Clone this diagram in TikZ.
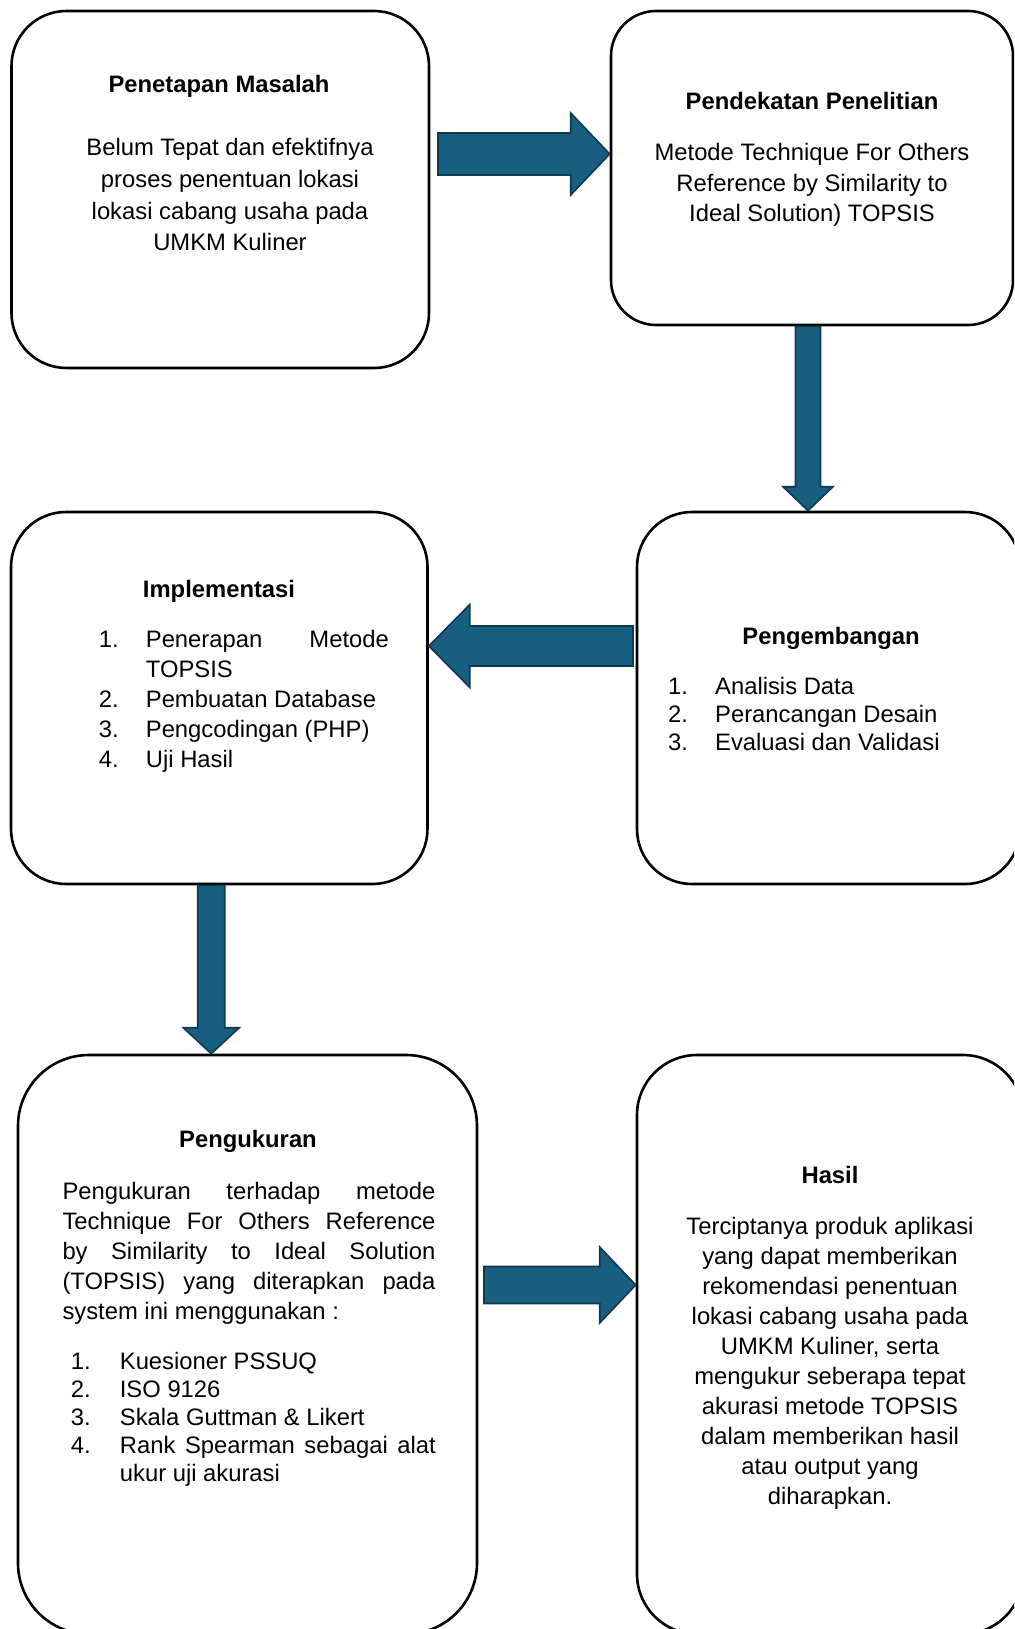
\documentclass[tikz,border=0pt]{standalone}
\usepackage{fontspec}
\setmainfont{Liberation Sans}
\usetikzlibrary{calc}

\definecolor{arrowfill}{RGB}{23,94,128}
\definecolor{arrowline}{RGB}{15,57,78}

\tikzset{
  stagebox/.style={draw=black, line width=2.6pt, rectangle, inner sep=0pt},
  blockarrow/.style={fill=arrowfill, draw=arrowline, line width=1.6pt, line join=miter},
  txt/.style={inner sep=0pt, font=\fontsize{23.8pt}{30.1pt}\selectfont},
  title/.style={inner sep=0pt, anchor=base, font=\fontsize{23.8pt}{30.1pt}\selectfont\bfseries},
}

% block arrow: tail, tip, shaft half-width, head half-width, head length
\newcommand\fatarrow[5]{%
  \coordinate (#2-base) at ($(#2)!#5!(#1)$);
  \draw[blockarrow]
    ($(#1)!#3!90:(#2)$) -- ($(#2-base)!#3!90:(#2)$) -- ($(#2-base)!#4!90:(#2)$)
    -- (#2)
    -- ($(#2-base)!#4!-90:(#2)$) -- ($(#2-base)!#3!-90:(#2)$) -- ($(#1)!#3!-90:(#2)$)
    -- cycle;
}

\begin{document}
\begin{tikzpicture}[x=1pt, y=-1pt]
  \useasboundingbox (0,0) rectangle (1014,1629);
  \fill[white] (0,0) rectangle (1014,1629);
  \clip (0,0) rectangle (1014,1629);

  % stages
  \node[stagebox, minimum width=417.5pt, minimum height=357pt, rounded corners=55pt] (b1) at (220.25,189.5) {};
  \node[stagebox, minimum width=402pt, minimum height=314pt, rounded corners=45pt] (b2) at (812,168) {};
  \node[stagebox, minimum width=383pt, minimum height=372pt, rounded corners=55pt] (b3) at (828.5,698) {};
  \node[stagebox, minimum width=416.5pt, minimum height=372pt, rounded corners=55pt] (b4) at (219.25,698) {};
  \node[stagebox, minimum width=459pt, minimum height=579pt, rounded corners=71pt] (b5) at (247.5,1344.5) {};
  \node[stagebox, minimum width=386pt, minimum height=579pt, rounded corners=60pt] (b6) at (830,1344.5) {};

  % connectors
  \coordinate (a1s) at (438,154);
  \coordinate (a1e) at (b2.west |- a1s);
  \fatarrow{a1s}{a1e}{21pt}{41pt}{39pt}

  \coordinate (a2s) at ($(b2.south)+(-4,0)$);
  \coordinate (a2e) at (a2s |- b3.north);
  \fatarrow{a2s}{a2e}{12.5pt}{25pt}{24pt}

  \coordinate (a3s) at (633,646);
  \coordinate (a3e) at (b4.east |- a3s);
  \fatarrow{a3s}{a3e}{20pt}{41.5pt}{41pt}

  \coordinate (a4s) at ($(b4.south)+(-8,0)$);
  \coordinate (a4e) at (a4s |- b5.north);
  \fatarrow{a4s}{a4e}{13.5pt}{28pt}{26pt}

  \coordinate (a5s) at (484,1285);
  \coordinate (a5e) at (b6.west |- a5s);
  \fatarrow{a5s}{a5e}{18.5pt}{38pt}{36pt}

  % text blocks are placed by the baseline of their last line

  % Penetapan Masalah
  \node[title] (t1) at (219,93) {Penetapan Masalah};
  \node[txt, align=center, anchor=base, font=\fontsize{23.8pt}{31.6pt}\selectfont] (p1) at (230,250.8)
    {Belum Tepat dan efektifnya\\proses penentuan lokasi\\lokasi cabang usaha pada\\UMKM Kuliner};

  % Pendekatan Penelitian
  \node[title] (t2) at (812,110) {Pendekatan Penelitian};
  \node[txt, align=center, anchor=base] (p2) at (812,221.2)
    {Metode Technique For Others\\Reference by Similarity to\\Ideal Solution) TOPSIS};

  % Pengembangan
  \node[title] (t3) at (831,644) {Pengembangan};
  \node[txt, align=left, anchor=base west, font=\fontsize{23.8pt}{28pt}\selectfont] (p3) at (668,750)
    {\makebox[47pt][l]{1.}Analisis Data\\
     \makebox[47pt][l]{2.}Perancangan Desain\\
     \makebox[47pt][l]{3.}Evaluasi dan Validasi};

  % Implementasi
  \node[title] (t4) at (219,597) {Implementasi};
  \node[txt, align=left, anchor=base west] (p4) at (98.7,767.4)
    {\makebox[47pt][l]{1.}\makebox[243pt][s]{Penerapan Metode}\\
     \hspace*{47pt}TOPSIS\\
     \makebox[47pt][l]{2.}Pembuatan Database\\
     \makebox[47pt][l]{3.}Pengcodingan (PHP)\\
     \makebox[47pt][l]{4.}Uji Hasil};

  % Pengukuran
  \node[title] (t5) at (248,1147) {Pengukuran};
  \node[txt, align=left, anchor=base west] (p5) at (62.3,1319.4)
    {\makebox[373pt][s]{Pengukuran terhadap metode}\\
     \makebox[373pt][s]{Technique For Others Reference}\\
     \makebox[373pt][s]{by Similarity to Ideal Solution}\\
     \makebox[373pt][s]{(TOPSIS) yang diterapkan pada}\\
     system ini menggunakan :};
  \node[txt, align=left, anchor=base west, font=\fontsize{23.8pt}{28pt}\selectfont] (l5) at (70.7,1481)
    {\makebox[49pt][l]{1.}Kuesioner PSSUQ\\
     \makebox[49pt][l]{2.}ISO 9126\\
     \makebox[49pt][l]{3.}Skala Guttman \& Likert\\
     \makebox[49pt][l]{4.}\makebox[316pt][s]{Rank Spearman sebagai alat}\\
     \hspace*{49pt}ukur uji akurasi};

  % Hasil
  \node[title] (t6) at (830,1183) {Hasil};
  \node[txt, align=center, anchor=base] (p6) at (830,1504.9)
    {Terciptanya produk aplikasi\\yang dapat memberikan\\rekomendasi penentuan\\lokasi cabang usaha pada\\UMKM Kuliner, serta\\mengukur seberapa tepat\\akurasi metode TOPSIS\\dalam memberikan hasil\\atau output yang\\diharapkan.};
\end{tikzpicture}
\end{document}
